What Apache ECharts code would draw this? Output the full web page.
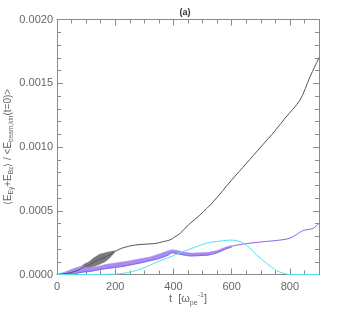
<!DOCTYPE html>
<html><head><meta charset="utf-8">
<script src="https://cdn.jsdelivr.net/npm/echarts@6/dist/echarts.min.js"></script>
<style>html,body{margin:0;padding:0;background:#fff}#c{width:338px;height:312px}</style>
</head><body><div id="c"></div>
<script>
// ---- data ----
var xTickLabels = ['0', '200', '400', '600', '800'];
var yTickLabels = ['0.0000', '0.0005', '0.0010', '0.0015', '0.0020'];

// black curve (centre)
var blackT = [0, 30, 55, 75, 92, 110, 124, 146, 165, 180, 197, 221, 255, 285, 320, 342, 365, 388, 405, 423, 451, 491, 537, 600, 650, 700, 750, 783, 835, 869, 900];
var blackV = [0, 0.000006, 0.00002, 0.000036, 0.000058, 0.000075, 0.000094, 0.000119, 0.000135, 0.000153, 0.000178, 0.000205, 0.000226, 0.000235, 0.00024, 0.000245, 0.000258, 0.000271, 0.000295, 0.000323, 0.000388, 0.000467, 0.000571, 0.000741, 0.00087, 0.001, 0.00113, 0.001225, 0.001369, 0.00155, 0.0017];
// black oscillation envelope
var blackBandT = [55, 75, 92, 110, 124, 146, 165, 180, 197];
var blackBandLo = [0.000015, 0.000022, 0.000035, 0.00005, 0.000061, 0.00008, 0.0001, 0.000127, 0.00017];
var blackBandHi = [0.000025, 0.00005, 0.00008, 0.0001, 0.000127, 0.000158, 0.00017, 0.000179, 0.000186];

// purple oscillation envelope
var purpleBandT = [0, 30, 60, 92, 108, 140, 170, 200, 230, 260, 290, 320, 350, 380, 395, 410, 430, 460, 490, 520, 550, 580, 600];
var purpleBandLo = [0, 0.000003, 0.000006, 0.00002, 0.000022, 0.000035, 0.000047, 0.000055, 0.000065, 0.000078, 0.000092, 0.000108, 0.000125, 0.00015, 0.00017, 0.000165, 0.000155, 0.000145, 0.000148, 0.000152, 0.00017, 0.0002, 0.000215];
var purpleBandHi = [0, 0.000022, 0.00005, 0.00007, 0.000053, 0.000063, 0.00008, 0.00009, 0.0001, 0.000112, 0.000125, 0.000138, 0.00016, 0.000185, 0.000195, 0.00019, 0.000178, 0.000168, 0.00017, 0.000174, 0.000188, 0.000215, 0.000228];
// purple curve after oscillations
var purpleT = [600, 640, 700, 766, 800, 820, 846, 880, 900];
var purpleV = [0.000222, 0.000239, 0.000255, 0.00027, 0.000284, 0.00031, 0.000345, 0.000362, 0.000402];

// cyan curve
var cyanT = [0, 100, 200, 230, 256, 296, 342, 399, 423, 457, 514, 560, 595, 623, 651, 686, 720, 755, 789, 800, 900];
var cyanV = [0, 0, 0.000003, 0.00001, 0.000022, 0.000049, 0.000096, 0.000147, 0.00017, 0.0002, 0.000245, 0.000262, 0.00027, 0.000262, 0.000231, 0.000153, 0.000088, 0.00003, 0.000003, 0, 0];

function pairs(t, v) { return t.map(function (x, i) { return [x, v[i]]; }); }
function band(t, lo, hi, fill) {
  return {
    type: 'custom', coordinateSystem: 'cartesian2d', clip: true, silent: true,
    data: [[t[0], lo[0]]],
    renderItem: function (params, api) {
      var pts = [];
      for (var i = 0; i < t.length; i++) pts.push(api.coord([t[i], hi[i]]));
      for (var j = t.length - 1; j >= 0; j--) pts.push(api.coord([t[j], lo[j]]));
      return { type: 'polygon', shape: { points: pts }, style: { fill: fill, stroke: fill, lineWidth: 0.5 } };
    }
  };
}
function line(t, v, color, w, z) {
  return { type: 'line', data: pairs(t, v), symbol: 'none', smooth: 0.3, z: z || 2,
    lineStyle: { color: color, width: w || 1 } };
}

var axisGray = '#8a8a8a', labelGray = '#666';
var font = 'Liberation Sans, Arial, sans-serif';

var chart = echarts.init(document.getElementById('c'), null, { renderer: 'canvas' });
chart.setOption({
  animation: false,
  backgroundColor: '#fff',
  title: { text: '(a)', left: 180, top: 3, textAlign: 'center',
    textStyle: { fontSize: 9, fontWeight: 'bold', color: '#333', fontFamily: font } },
  grid: { left: 57, top: 19.5, width: 262, height: 255, containLabel: false, outerBoundsMode: 'none' },
  xAxis: [{
    type: 'value', min: 0, max: 900, interval: 200, position: 'bottom',
    axisLine: { show: true, onZero: false, lineStyle: { color: axisGray, width: 1 } },
    axisTick: { show: true, inside: true, length: 6, lineStyle: { color: axisGray } },
    minorTick: { show: true, splitNumber: 4, length: 4, lineStyle: { color: axisGray } },
    splitLine: { show: false },
    axisLabel: { color: labelGray, fontSize: 11, fontFamily: font, margin: 7,
      formatter: function (v) { var i = xTickLabels.indexOf(String(v)); return i >= 0 ? xTickLabels[i] : ''; } },
    name: '{n|t  [ω}{s|pe}{p|-1}{n|]}', nameLocation: 'middle', nameGap: 17, nameMoveOverlap: false,
    nameTextStyle: { color: labelGray, fontFamily: font,
      rich: { n: { fontSize: 11, lineHeight: 15, verticalAlign: 'middle', color: labelGray, fontFamily: font },
              s: { fontSize: 7, lineHeight: 15, verticalAlign: 'bottom', color: labelGray, fontFamily: font },
              p: { fontSize: 7, lineHeight: 15, verticalAlign: 'top', color: labelGray, fontFamily: font } } }
  }, {
    type: 'value', min: 0, max: 900, interval: 200, position: 'top',
    axisLine: { show: true, onZero: false, lineStyle: { color: axisGray, width: 1 } },
    axisTick: { show: true, inside: true, length: 6, lineStyle: { color: axisGray } },
    minorTick: { show: true, splitNumber: 4, length: 4, lineStyle: { color: axisGray } },
    splitLine: { show: false }, axisLabel: { show: false }
  }],
  yAxis: [{
    type: 'value', min: 0, max: 0.002, interval: 0.0005, position: 'left',
    axisLine: { show: true, onZero: false, lineStyle: { color: axisGray, width: 1 } },
    axisTick: { show: true, inside: true, length: 6, lineStyle: { color: axisGray } },
    minorTick: { show: true, splitNumber: 5, length: 4, lineStyle: { color: axisGray } },
    splitLine: { show: false },
    axisLabel: { color: labelGray, fontSize: 11, fontFamily: font, margin: 4,
      formatter: function (v) { return yTickLabels[Math.round(v / 0.0005)] || ''; } },
    name: '{n|⟨E}{s|Ey}{n|+E}{s|Bz}{n|⟩ / <E}{s|beam,kin}{n|(t=0)>}',
    nameLocation: 'middle', nameRotate: 90, nameGap: 42, nameMoveOverlap: false,
    nameTextStyle: { color: labelGray, fontFamily: font,
      rich: { n: { fontSize: 10, lineHeight: 14, verticalAlign: 'middle', color: labelGray, fontFamily: font },
              s: { fontSize: 6.5, lineHeight: 14, verticalAlign: 'bottom', color: labelGray, fontFamily: font } } }
  }, {
    type: 'value', min: 0, max: 0.002, interval: 0.0005, position: 'right',
    axisLine: { show: true, onZero: false, lineStyle: { color: axisGray, width: 1 } },
    axisTick: { show: true, inside: true, length: 6, lineStyle: { color: axisGray } },
    minorTick: { show: true, splitNumber: 5, length: 4, lineStyle: { color: axisGray } },
    splitLine: { show: false }, axisLabel: { show: false }
  }],
  series: [
    band(blackBandT, blackBandLo, blackBandHi, '#7a7a7a'),
    line(blackT, blackV, '#555555', 1, 3),
    band(purpleBandT, purpleBandLo, purpleBandHi, '#a88cf2'),
    line(purpleBandT, purpleBandLo, '#5a3de0', 0.6, 4),
    line(purpleT, purpleV, '#8a63ee', 1, 4),
    line(cyanT, cyanV, '#4fe3f5', 1, 5)
  ]
});
</script></body></html>
